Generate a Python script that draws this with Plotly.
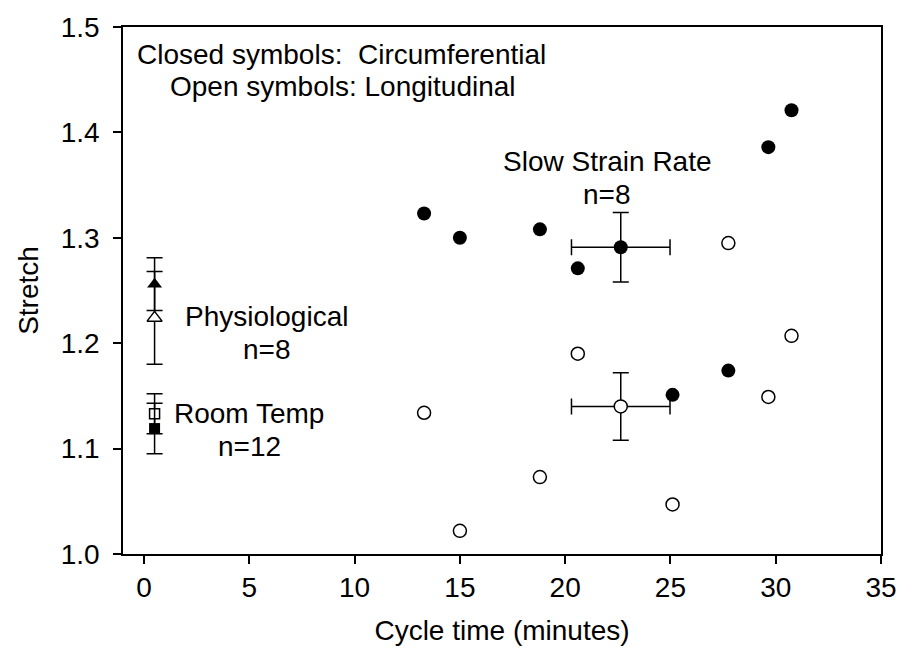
import plotly.graph_objects as go

# ---- data ----
slow_x = [13.3, 15.0, 18.8, 20.6, 25.1, 27.75, 29.65, 30.75]
circ_y = [1.323, 1.300, 1.308, 1.271, 1.151, 1.174, 1.386, 1.421]
long_y = [1.134, 1.022, 1.073, 1.190, 1.047, 1.295, 1.149, 1.207]

slow_mean_x = [22.64]
slow_err_x = [2.34]
circ_mean_y = [1.291]
circ_err_y = [0.033]
long_mean_y = [1.140]
long_err_y = [0.032]

ctrl_x = [0.5]
phys_circ_y = [1.256]
phys_circ_err = [0.025]
phys_long_y = [1.224]
phys_long_err = [0.044]
room_circ_y = [1.119]
room_circ_err = [0.024]
room_long_y = [1.133]
room_long_err = [0.019]

x_ticks = [0, 5, 10, 15, 20, 25, 30, 35]
y_ticks = [1.0, 1.1, 1.2, 1.3, 1.4, 1.5]

FONT = "Liberation Sans, Arial, sans-serif"
FS = 28
BLK = "black"

fig = go.Figure()

def err(vals):
    return dict(type="data", array=vals, visible=True, color=BLK, thickness=1.5, width=8)

# individual points
fig.add_trace(go.Scatter(x=slow_x, y=circ_y, mode="markers",
                         marker=dict(symbol="circle", size=14, color=BLK, line=dict(width=0))))
fig.add_trace(go.Scatter(x=slow_x, y=long_y, mode="markers",
                         marker=dict(symbol="circle", size=13, color="white", line=dict(width=1.5, color=BLK))))
# slow strain rate means
fig.add_trace(go.Scatter(x=slow_mean_x, y=circ_mean_y, mode="markers",
                         error_x=err(slow_err_x), error_y=err(circ_err_y),
                         marker=dict(symbol="circle", size=14, color=BLK, line=dict(width=0))))
fig.add_trace(go.Scatter(x=slow_mean_x, y=long_mean_y, mode="markers",
                         error_x=err(slow_err_x), error_y=err(long_err_y),
                         marker=dict(symbol="circle", size=13, color="white", line=dict(width=1.5, color=BLK))))
# physiological
fig.add_trace(go.Scatter(x=ctrl_x, y=phys_circ_y, mode="markers", error_y=err(phys_circ_err),
                         marker=dict(symbol="triangle-up", size=13, color=BLK, line=dict(width=0))))
fig.add_trace(go.Scatter(x=ctrl_x, y=phys_long_y, mode="markers", error_y=err(phys_long_err),
                         marker=dict(symbol="triangle-up", size=13, color="white", line=dict(width=1.5, color=BLK))))
# room temp
fig.add_trace(go.Scatter(x=ctrl_x, y=room_long_y, mode="markers", error_y=err(room_long_err),
                         marker=dict(symbol="square", size=10, color="white", line=dict(width=1.5, color=BLK))))
fig.add_trace(go.Scatter(x=ctrl_x, y=room_circ_y, mode="markers", error_y=err(room_circ_err),
                         marker=dict(symbol="square", size=11, color=BLK, line=dict(width=0))))

def note(text, x, y, xanchor="center"):
    fig.add_annotation(x=x, y=y, xref="x", yref="y", text=text, showarrow=False,
                       xanchor=xanchor, yanchor="middle", font=dict(family=FONT, size=FS, color=BLK))

note("Closed symbols:\u00a0\u00a0Circumferential", -0.41, 1.4737, "left")
note("Open symbols: Longitudinal", 1.14, 1.4438, "left")
note("Slow Strain Rate", 22.02, 1.3725)
note("n=8", 22.0, 1.341)
note("Physiological", 5.81, 1.225)
note("n=8", 5.84, 1.1937)
note("Room Temp", 4.99, 1.133)
note("n=12", 4.99, 1.102)

axis_common = dict(showline=True, linecolor=BLK, linewidth=1.5, mirror=True,
                   showgrid=False, zeroline=False, ticks="outside", ticklen=8,
                   tickwidth=1.5, tickcolor=BLK,
                   tickfont=dict(family=FONT, size=FS, color=BLK))

fig.update_layout(
    width=909, height=663,
    margin=dict(l=123, r=20, t=18, b=109),
    paper_bgcolor="white", plot_bgcolor="white",
    showlegend=False,
    font=dict(family=FONT, size=FS, color=BLK),
    xaxis=dict(range=[-1, 35], tickvals=x_ticks, ticktext=[str(v) for v in x_ticks],
               title=dict(text="Cycle time (minutes)", font=dict(family=FONT, size=FS, color=BLK), standoff=18),
               **axis_common),
    yaxis=dict(range=[1.0, 1.5], tickvals=y_ticks, ticktext=[f"{v:.1f}" for v in y_ticks],
               ticklabelstandoff=8,
               title=dict(text="Stretch", font=dict(family=FONT, size=FS, color=BLK), standoff=14),
               **axis_common),
)

fig.write_html("out.html")
